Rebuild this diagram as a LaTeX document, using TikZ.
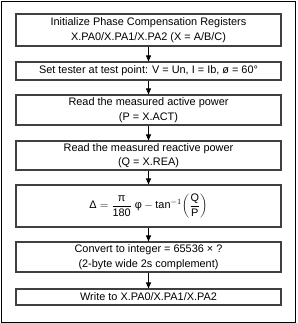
\documentclass[tikz,border=0pt]{standalone}
\usepackage{fontspec}
\setmainfont{Liberation Sans}
\usetikzlibrary{arrows.meta}
\begin{document}
\begin{tikzpicture}[x=1pt,y=-1pt,
  stepbox/.style={draw=black!75, line width=1.1pt, minimum width=265pt, inner sep=0pt, align=center, font=\fontsize{10.9}{14.5}\selectfont},
  flow/.style={-{Triangle[width=5pt,length=6pt]}, line width=0.9pt}]
\useasboundingbox (0,0) rectangle (297,323);
\draw[line width=0.9pt] (1,1) rectangle (295,322);
\node[stepbox, minimum height=32pt] (b1) at (148.5,30) {Initialize Phase Compensation Registers\\X.PA0/X.PA1/X.PA2 (X = A/B/C)};
\node[stepbox, minimum height=18pt] (b2) at (148.5,71) {Set tester at test point: V = Un, I = Ib, ø = 60°};
\node[stepbox, minimum height=30pt] (b3) at (148.5,110) {Read the measured active power\\(P = X.ACT)};
\node[stepbox, minimum height=29pt] (b4) at (148.5,155.5) {Read the measured reactive power\\(Q = X.REA)};
\node[stepbox, minimum height=42pt] (b5) at (148.5,206) {$\displaystyle \mbox{Δ} = \frac{\mbox{π}}{\mbox{180}}\;\mbox{φ} - \mbox{tan}^{-1}\!\left(\frac{\mbox{Q}}{\mbox{P}}\right)$};
\node[stepbox, minimum height=30pt] (b6) at (148.5,257) {Convert to integer = 65536 × ?\\(2-byte wide 2s complement)};
\node[stepbox, minimum height=16pt] (b7) at (148.5,297) {Write to X.PA0/X.PA1/X.PA2};
\draw[flow] (b1) -- (b2);
\draw[flow] (b2) -- (b3);
\draw[flow] (b3) -- (b4);
\draw[flow] (b4) -- (b5);
\draw[flow] (b5) -- (b6);
\draw[flow] (b6) -- (b7);
\end{tikzpicture}
\end{document}
